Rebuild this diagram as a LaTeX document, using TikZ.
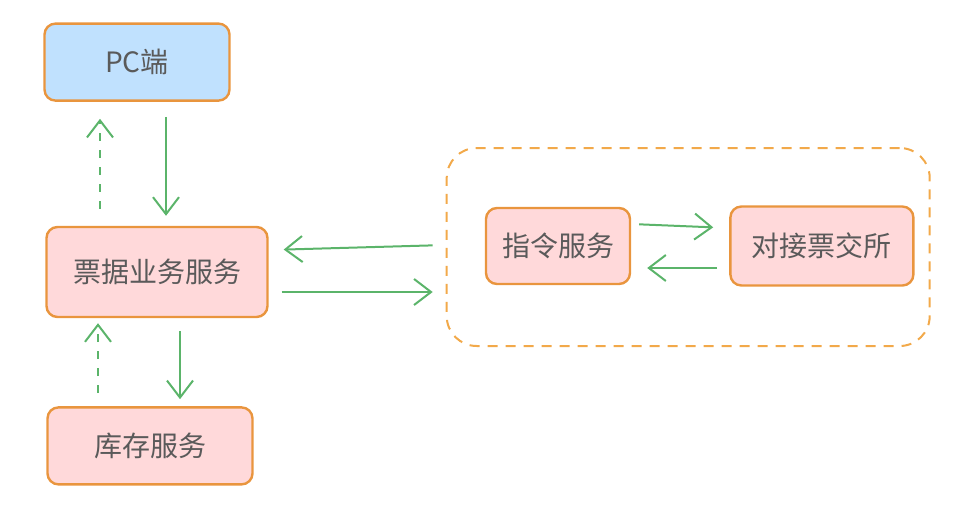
\documentclass[tikz,border=0pt]{standalone}
\usepackage{fontspec}
\setmainfont{Noto Sans CJK SC}
\usetikzlibrary{positioning,arrows.meta}

\definecolor{edgeorange}{HTML}{E9953E}
\definecolor{grouporange}{HTML}{F2A94A}
\definecolor{fillpink}{HTML}{FFD9DA}
\definecolor{fillblue}{HTML}{C0E1FE}
\definecolor{arrowgreen}{HTML}{5BB46A}
\definecolor{textgray}{HTML}{5A5A5A}

\tikzset{
  box/.style={draw=edgeorange, line width=2.4pt, rounded corners=11pt, fill=fillpink,
    text=textgray, font=\fontsize{28}{34}\selectfont, minimum height=77pt, inner xsep=10pt},
  client/.style={box, fill=fillblue},
  group/.style={draw=grouporange, line width=2pt, dash pattern=on 10pt off 8pt,
    rounded corners=30pt, minimum width=483pt, minimum height=198pt},
  flow/.style={draw=arrowgreen, line width=2pt, -{Straight Barb[length=17pt,width=26pt]}},
  reply/.style={flow, dash pattern=on 8pt off 9pt},
}

\begin{document}
\begin{tikzpicture}[x=1pt, y=-1pt]
                \useasboundingbox (0,0) rectangle (956,517);

                \node[box, minimum width=221pt, minimum height=90pt] at (157,272) (bill) {票据业务服务};
                \node[client, minimum width=185pt, above=124pt of bill, xshift=-20pt] (pc) {PC端};
                \node[box, minimum width=205pt, below=88pt of bill, xshift=-7pt] (stock) {库存服务};
                \node[group, right=177pt of bill, yshift=25pt] (grp) {};
                \node[box, minimum width=144pt, minimum height=76pt] at (558,246) (cmd) {指令服务};
                \node[box, minimum width=183pt, minimum height=79pt, right=98pt of cmd] (exch) {对接票交所};

                \draw[flow, shorten <=15pt, shorten >=10pt] ([xshift=29pt]pc.south) -- ([xshift=9pt]bill.north);
                \draw[reply, shorten <=17pt, shorten >=17pt] ([xshift=-57pt]bill.north) -- ([xshift=-37pt]pc.south);
                \draw[flow, shorten <=13pt, shorten >=7pt] ([xshift=23pt]bill.south) -- ([xshift=30pt]stock.north);
                \draw[reply, shorten <=13pt, shorten >=5pt] ([xshift=-52pt]stock.north) -- ([xshift=-59pt]bill.south);

                \draw[flow, shorten <=13pt, shorten >=15pt] ([yshift=2pt]grp.west) -- ([yshift=22pt]bill.east);
                \draw[flow, shorten <=13pt, shorten >=13pt] ([yshift=-20pt]bill.east) -- ([yshift=-45pt]grp.west);

                \draw[flow, shorten <=8pt, shorten >=16pt] ([yshift=22pt]cmd.east) -- ([yshift=18pt]exch.west);
                \draw[flow, shorten <=12pt, shorten >=16pt] ([yshift=-22pt]exch.west) -- ([yshift=-22pt]cmd.east);
            \end{tikzpicture}
\end{document}
